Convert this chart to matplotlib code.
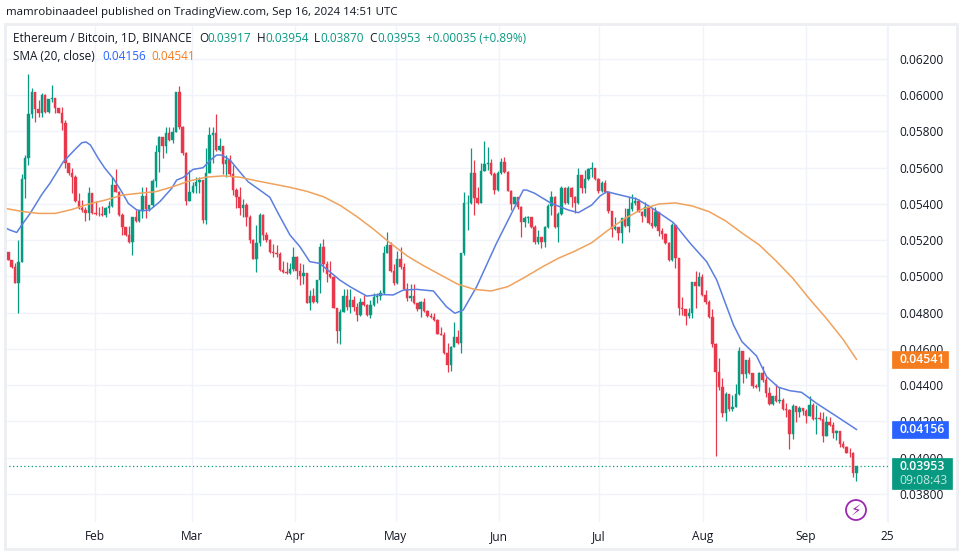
import numpy as np
import matplotlib
matplotlib.use('Agg')
import matplotlib.pyplot as plt
from matplotlib.patches import FancyBboxPatch, Ellipse, Rectangle

W, H = 961, 552
plt.rcParams['font.family'] = ['Open Sans', 'DejaVu Sans']

# prices are in units of 0.00001
first_open = 5110
closes = [
    5137, 5091, 5054, 4962, 5082, 5536, 5652, 5894, 6016, 5922,
    5904, 6001, 5909, 5979, 5983, 5928, 5904, 5845, 5624, 5573,
    5551, 5418, 5380, 5367, 5352, 5459, 5352, 5345, 5343, 5341,
    5376, 5391, 5505, 5468, 5339, 5275, 5229, 5188, 5326, 5308,
    5363, 5444, 5370, 5394, 5529, 5685, 5771, 5722, 5790, 5753,
    5799, 6016, 5827, 5679, 5418, 5464, 5499, 5523, 5530, 5312,
    5573, 5781, 5790, 5698, 5722, 5621, 5643, 5565, 5477, 5437,
    5376, 5394, 5326, 5201, 5096, 5183, 5339, 5229, 5201, 5133,
    5130, 5125, 5036, 5027, 5021, 5041, 5109, 5032, 5005, 5017,
    4855, 4892, 4861, 4980, 5161, 5067, 5014, 4999, 4824, 4699,
    4802, 4892, 4833, 4870, 4830, 4785, 4859, 4843, 4785, 4843,
    4888, 4892, 4907, 5128, 5174, 5032, 4962, 5094, 5050, 4929,
    4879, 4894, 4852, 4819, 4857, 4811, 4782, 4778, 4760, 4682,
    4678, 4580, 4512, 4613, 4664, 4631, 5128, 5403, 5408, 5569,
    5431, 5407, 5584, 5619, 5624, 5565, 5477, 5573, 5633, 5578,
    5473, 5400, 5436, 5381, 5302, 5321, 5326, 5271, 5192, 5216,
    5192, 5271, 5389, 5440, 5275, 5345, 5486, 5407, 5486, 5440,
    5407, 5560, 5486, 5536, 5591, 5597, 5536, 5473, 5518, 5468,
    5361, 5262, 5275, 5238, 5321, 5279, 5371, 5404, 5418, 5358,
    5336, 5382, 5293, 5279, 5358, 5253, 5235, 5187, 5091, 5284,
    5100, 4824, 4819, 4784, 4797, 4968, 4950, 4999, 4898, 4861,
    4778, 4626, 4475, 4389, 4249, 4350, 4270, 4282, 4350, 4589,
    4460, 4539, 4466, 4396, 4392, 4470, 4429, 4356, 4297, 4343,
    4313, 4319, 4269, 4264, 4131, 4286, 4254, 4276, 4258, 4232,
    4291, 4214, 4221, 4216, 4122, 4199, 4181, 4135, 4148, 4076,
    4061, 4028, 4024, 3917, 3953,
]
highs = [
    5210, 5137, 5091, 5076, 5201, 5565, 5670, 6117, 6038, 6016,
    5973, 6014, 6007, 5979, 6056, 5983, 5928, 5933, 5863, 5624,
    5596, 5560, 5462, 5422, 5385, 5492, 5459, 5418, 5381, 5389,
    5385, 5416, 5547, 5593, 5473, 5348, 5275, 5278, 5326, 5367,
    5367, 5495, 5495, 5394, 5538, 5725, 5777, 5771, 5827, 5827,
    5823, 6016, 6051, 5832, 5685, 5587, 5523, 5550, 5550, 5532,
    5707, 5823, 5823, 5896, 5762, 5722, 5670, 5670, 5615, 5490,
    5492, 5426, 5404, 5339, 5207, 5284, 5352, 5345, 5246, 5205,
    5179, 5174, 5135, 5085, 5082, 5072, 5164, 5115, 5072, 5067,
    5017, 4925, 4934, 4980, 5183, 5207, 5087, 5085, 5003, 4824,
    4820, 4929, 4929, 4929, 4894, 4852, 4879, 4898, 4850, 4870,
    4907, 4907, 4925, 5168, 5247, 5192, 5070, 5142, 5161, 5076,
    4966, 4958, 4958, 4855, 4866, 4879, 4815, 4800, 4800, 4763,
    4723, 4695, 4631, 4616, 4750, 4705, 5128, 5468, 5450, 5707,
    5642, 5495, 5624, 5747, 5716, 5646, 5578, 5580, 5652, 5661,
    5582, 5477, 5440, 5440, 5389, 5334, 5334, 5321, 5284, 5256,
    5216, 5280, 5400, 5471, 5445, 5355, 5499, 5495, 5499, 5495,
    5445, 5597, 5560, 5587, 5597, 5630, 5597, 5541, 5529, 5532,
    5468, 5361, 5330, 5266, 5321, 5376, 5437, 5455, 5440, 5428,
    5363, 5413, 5386, 5376, 5385, 5358, 5266, 5242, 5192, 5297,
    5284, 5100, 4889, 4821, 4828, 4968, 5032, 5027, 5014, 4926,
    4870, 4819, 4631, 4548, 4438, 4360, 4350, 4346, 4405, 4613,
    4589, 4539, 4554, 4466, 4405, 4475, 4506, 4444, 4389, 4343,
    4405, 4392, 4328, 4300, 4269, 4297, 4286, 4286, 4276, 4267,
    4341, 4300, 4290, 4254, 4254, 4232, 4227, 4199, 4155, 4148,
    4093, 4065, 4056, 4034, 3954,
]
lows = [
    5100, 5091, 5045, 4962, 4797, 5082, 5431, 5615, 5872, 5854,
    5881, 5881, 5904, 5900, 5964, 5904, 5900, 5808, 5596, 5560,
    5462, 5413, 5375, 5357, 5308, 5311, 5345, 5337, 5333, 5333,
    5330, 5352, 5381, 5468, 5333, 5229, 5225, 5183, 5118, 5300,
    5302, 5324, 5321, 5360, 5385, 5492, 5578, 5652, 5679, 5750,
    5735, 5799, 5814, 5670, 5394, 5418, 5459, 5459, 5459, 5293,
    5290, 5573, 5628, 5690, 5694, 5565, 5551, 5553, 5450, 5376,
    5339, 5326, 5279, 5183, 5096, 5027, 5170, 5201, 5190, 5130,
    5109, 5109, 5032, 5018, 5016, 5014, 5032, 4984, 4953, 4958,
    4855, 4815, 4855, 4855, 4907, 5025, 4971, 4990, 4824, 4631,
    4626, 4802, 4815, 4800, 4810, 4756, 4782, 4835, 4782, 4769,
    4839, 4852, 4870, 4903, 5128, 5025, 4955, 4960, 5040, 4925,
    4866, 4866, 4848, 4811, 4778, 4805, 4775, 4769, 4755, 4680,
    4678, 4575, 4475, 4480, 4609, 4625, 4576, 5120, 5255, 5400,
    5339, 5400, 5407, 5584, 5587, 5560, 5455, 5473, 5565, 5570,
    5470, 5367, 5395, 5375, 5219, 5275, 5293, 5265, 5179, 5179,
    5155, 5161, 5265, 5339, 5270, 5192, 5340, 5400, 5400, 5385,
    5352, 5400, 5459, 5462, 5532, 5550, 5530, 5459, 5464, 5460,
    5349, 5220, 5257, 5201, 5187, 5275, 5247, 5363, 5396, 5355,
    5303, 5330, 5288, 5270, 5272, 5224, 5205, 5180, 5085, 5087,
    5045, 4788, 4788, 4733, 4769, 4769, 4824, 4945, 4890, 4850,
    4773, 4609, 4012, 4374, 4227, 4205, 4260, 4260, 4278, 4346,
    4414, 4438, 4460, 4383, 4385, 4370, 4420, 4333, 4291, 4291,
    4305, 4300, 4265, 4227, 4047, 4102, 4199, 4227, 4236, 4194,
    4232, 4210, 4131, 4210, 4089, 4120, 4175, 4108, 4100, 4058,
    4056, 4024, 4006, 3892, 3870,
]

# moving averages, with the bar number of each reading
fast_bars = [
    0, 1.5, 3.5, 5, 7.5, 11, 13.4, 17.4, 21, 22.9, 24.2, 25.5, 27.8, 29.8, 32.3,
    34.8, 36.8, 39.3, 41.3, 43.2, 46.2, 49.7, 51.2, 53.2, 56.1, 59.1, 61.1, 63.1,
    64.6, 67.1, 69.6, 72.5, 76, 79, 81.5, 85, 88, 90.9, 93.9, 96.9, 99.9, 102.9,
    107.9, 111.9, 115.8, 118.8, 122.8, 127.8, 131.7, 134.2, 136.7, 140.7, 146.6,
    150.6, 154.6, 155.6, 158, 163, 168, 171, 175, 177.5, 179.5, 183.4, 188.4,
    192.4, 199.4, 204.4, 209.3, 212.3, 217.3, 219.8, 224.2, 227.2, 230.7, 234.1,
    237.6, 242.1, 247.1, 254,
]
sma_fast = [
    5269, 5256, 5243, 5284, 5348, 5453, 5514, 5633, 5703, 5738, 5742, 5725, 5652, 5597, 5541,
    5468, 5403, 5367, 5363, 5367, 5413, 5486, 5532, 5547, 5591, 5600, 5639, 5670,
    5670, 5643, 5587, 5523, 5477, 5437, 5348, 5229, 5164, 5082, 5072, 5026, 4980, 4944,
    4892, 4901, 4898, 4925, 4929, 4920, 4833, 4797, 4815, 4944, 5183,
    5330, 5477, 5477, 5459, 5403, 5367, 5352, 5394, 5444, 5468, 5450, 5428,
    5385, 5297, 5183, 5082, 4981, 4733, 4641, 4561, 4447, 4389, 4370,
    4361, 4300, 4240, 4156,
]
slow_bars = list(range(0, 255, 5)) + [254]
sma_slow = [
    5376, 5359, 5348, 5348, 5370, 5400, 5422, 5449, 5459, 5468,
    5495, 5527, 5548, 5555, 5548, 5528, 5510, 5492, 5470, 5440,
    5392, 5330, 5260, 5183, 5113, 5058, 5008, 4958, 4929, 4920,
    4944, 4995, 5050, 5100, 5140, 5186, 5257, 5321, 5371, 5400,
    5406, 5389, 5358, 5306, 5238, 5174, 5086, 4990, 4876, 4769,
    4653, 4543,
]

price_ticks = [0.038, 0.040, 0.042, 0.044, 0.046, 0.048, 0.050, 0.052,
               0.054, 0.056, 0.058, 0.060, 0.062]
month_labels = ['Feb', 'Mar', 'Apr', 'May', 'Jun', 'Jul', 'Aug', 'Sep', '25']
month_bars = [26.8, 55.8, 86.5, 116.6, 147.3, 177.2, 208.2, 238.9, 263.1]

GREEN = '#089981'
RED = '#e8394c'
BLUE = '#5b7fe0'
ORANGE = '#f0a25c'
TEXT = '#131722'
GRID = '#f0f3fa'

closes = np.array(closes) / 1e5
opens = np.concatenate([[first_open / 1e5], closes[:-1]])
highs = np.array(highs) / 1e5
lows = np.array(lows) / 1e5
bars = np.arange(len(closes))
colors = np.where(closes >= opens, GREEN, RED)


def fx(x):
    return x / W


def fy(y):
    return 1 - y / H


fig = plt.figure(figsize=(W / 100, H / 100), dpi=100, facecolor='white')
ax = fig.add_axes([fx(5), fy(522), fx(888) - fx(5), fy(24) - fy(522)])

ax.vlines(bars, lows, highs, colors=colors, linewidth=0.9, zorder=3)
ax.bar(bars, closes - opens, bottom=opens, width=0.72, color=colors,
       edgecolor=colors, linewidth=0.3, zorder=4)
ax.plot(fast_bars, np.array(sma_fast) / 1e5, color=BLUE, linewidth=1.1, zorder=5)
ax.plot(slow_bars, np.array(sma_slow) / 1e5, color=ORANGE, linewidth=1.1, zorder=5)
ax.axhline(closes[-1], color=GREEN, linewidth=0.9, linestyle=(0, (1, 2)), zorder=2)

ax.set_xlim(0, 263.4)
ax.set_ylim(0.036455, 0.06393)
ax.set_xticks(month_bars)
ax.set_xticklabels(month_labels)
ax.set_yticks(price_ticks)
ax.set_yticklabels(['%.5f' % p for p in price_ticks])
ax.yaxis.tick_right()
ax.tick_params(axis='both', length=0, labelsize=8.6, labelcolor=TEXT)
ax.tick_params(axis='y', pad=8)
ax.tick_params(axis='x', pad=6)
ax.grid(True, color=GRID, linewidth=1)
ax.set_axisbelow(True)
for side in ['top', 'bottom', 'left']:
    ax.spines[side].set_visible(False)
ax.spines['right'].set_color(GRID)

# frame round the whole chart
fig.add_artist(Rectangle((fx(5), fy(549)), fx(957) - fx(5), fy(24) - fy(549),
                         transform=fig.transFigure, fill=False,
                         edgecolor='#eceef2', linewidth=2))

fig.text(fx(6), fy(12), 'mamrobinaadeel published on TradingView.com, Sep 16, 2024 14:51 UTC',
         fontsize=8.27, color=TEXT, va='center')


def label(x, y, text, color=TEXT, **kw):
    fig.text(fx(x), fy(y), text, fontsize=8.5, color=color, va='center', zorder=6, **kw)


label(13, 38, 'Ethereum / Bitcoin, 1D, BINANCE')
for x, head, val in [(199, 'O', '0.03917'), (257, 'H', '0.03954'),
                     (314, 'L', '0.03870'), (369, 'C', '0.03953')]:
    label(x, 38, head)
    label(x + (6 if head == 'L' else 8), 38, val, GREEN)
label(426, 38, '+0.00035 (+0.89%)', GREEN)
label(13, 56, 'SMA (20, close)')
label(102, 56, '0.04156', '#2962ff')
label(151, 56, '0.04541', '#f57c1f')


def badge(y0, y1, x1, color):
    fig.add_artist(FancyBboxPatch((fx(892), fy(y1)), fx(x1) - fx(892), fy(y0) - fy(y1),
                                  boxstyle='square,pad=0', transform=fig.transFigure,
                                  facecolor=color, edgecolor=color, linewidth=0.5, zorder=5))


badge(351, 368, 948, '#f57c1f')
badge(421, 438, 948, '#2962ff')
badge(458, 489, 952, GREEN)
fig.text(fx(899), fy(359.5), '0.04541', fontsize=8.8, color='white', va='center', zorder=6, fontweight='semibold')
fig.text(fx(899), fy(429.5), '0.04156', fontsize=8.8, color='white', va='center', zorder=6, fontweight='semibold')
fig.text(fx(899), fy(467), '0.03953', fontsize=8.8, color='white', va='center', zorder=6, fontweight='semibold')
fig.text(fx(899), fy(480), '09:08:43', fontsize=8.8, color='#c4e8df', va='center', zorder=6)

# purple bolt mark
fig.add_artist(Ellipse((fx(856), fy(510)), 20 / W, 20 / H, transform=fig.transFigure,
                       facecolor='white', edgecolor='#9c27b0', linewidth=1.3, zorder=5))
fig.text(fx(856), fy(510), '\u26a1', fontsize=11, color='#9c27b0', ha='center', va='center',
         zorder=6, family='DejaVu Sans')

fig.savefig('out.png', dpi=100)
